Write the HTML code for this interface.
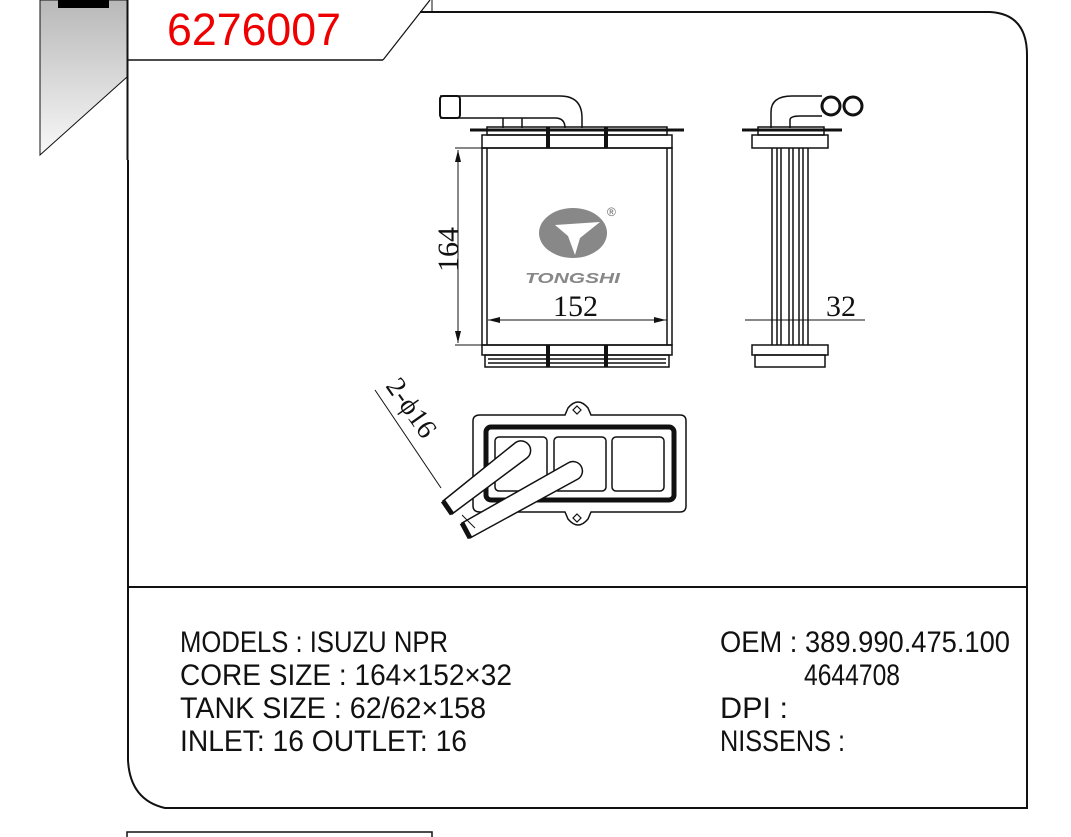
<!DOCTYPE html>
<html><head><style>
html,body{margin:0;padding:0;background:#fff;width:1071px;height:837px;overflow:hidden}
svg{display:block}
.t{font-family:"Liberation Sans Narrow","Liberation Sans",sans-serif;font-size:30px;fill:#111}
.s{font-family:"Liberation Serif",serif;fill:#111}
</style></head><body>
<svg width="1071" height="837" viewBox="0 0 1071 837" xmlns="http://www.w3.org/2000/svg" xml:space="preserve">
<defs><linearGradient id="g" x1="0" y1="0" x2="0" y2="1"><stop offset="0" stop-color="#b8b8b8"/><stop offset="1" stop-color="#f8f8f8"/></linearGradient></defs>
<polygon points="40,0 127,0 127,77 40,155" fill="url(#g)" stroke="#111" stroke-width="1"/>
<rect x="58" y="0" width="51" height="8" fill="#000"/>
<g fill="none" stroke="#111">
<line x1="127.5" y1="0" x2="127.5" y2="160" stroke-width="2"/>
<line x1="128" y1="60" x2="383" y2="60" stroke-width="1.5"/>
<line x1="383" y1="60" x2="430" y2="0" stroke-width="1.2"/>
<line x1="432" y1="0" x2="432" y2="12"/>
<path d="M420,12 L990,12 Q1027,14 1027,55 L1027,808 L165,808 Q130,800 128,760 L128,160" stroke-width="2"/>
<line x1="128" y1="587" x2="1027" y2="587" stroke-width="2"/>
<path d="M127,837 L127,832 L432,832 L432,837" stroke-width="1.5"/>
</g>
<text x="167" y="45" font-family="Liberation Sans,sans-serif" font-size="45" fill="#e00" textLength="174" lengthAdjust="spacingAndGlyphs">6276007</text>

<g fill="none" stroke="#111" stroke-width="1.5">
<path d="M440,96 L560,96 Q582,96 582,118 L582,128 M440,118 L555,118 Q565,118 565,128"/>
<rect x="440" y="96" width="20" height="22" rx="3" stroke-width="2"/>
<line x1="503" y1="118" x2="503" y2="128"/><line x1="522" y1="118" x2="522" y2="128"/>
<line x1="470" y1="130" x2="684" y2="130" stroke-width="3"/>
<rect x="487" y="127" width="180" height="8"/>
<rect x="482" y="135" width="190" height="13"/>
<rect x="482" y="148" width="190" height="197"/>
<line x1="487" y1="148" x2="487" y2="345"/><line x1="667" y1="148" x2="667" y2="345"/>
<rect x="482" y="345" width="190" height="10"/>
<rect x="485" y="355" width="184" height="12"/>
<path d="M488,359 H666 M488,363 H666"/>
<line x1="548" y1="127" x2="548" y2="148" stroke-width="4"/><line x1="606" y1="127" x2="606" y2="148" stroke-width="4"/>
<line x1="548" y1="345" x2="548" y2="367" stroke-width="4"/><line x1="606" y1="345" x2="606" y2="367" stroke-width="4"/>
<g stroke-width="1"><line x1="455" y1="148" x2="482" y2="148"/><line x1="455" y1="345" x2="482" y2="345"/>
<line x1="458" y1="150" x2="458" y2="343"/><line x1="488" y1="320" x2="667" y2="320"/>
<line x1="745" y1="320" x2="865" y2="320"/></g>
</g>
<g fill="#111"><polygon points="458,150 455,162 461,162"/><polygon points="458,343 455,331 461,331"/>
<polygon points="488,320 500,317 500,323"/><polygon points="666,320 654,317 654,323"/></g>
<text class="s" font-size="30" transform="translate(458,272) rotate(-90)">164</text>
<text class="s" x="553" y="316" font-size="30">152</text>
<text class="s" x="826" y="316" font-size="30">32</text>
<ellipse cx="573" cy="233" rx="34" ry="25" fill="#888"/>
<path d="M555,225 L600,222 L580,238 L575,255 L568,236 Z" fill="#fff"/>
<text x="525" y="283" font-family="Liberation Sans,sans-serif" font-weight="bold" font-style="italic" font-size="15" fill="#888" textLength="95" lengthAdjust="spacingAndGlyphs">TONGSHI</text>
<text x="607" y="216" font-family="Liberation Sans,sans-serif" font-size="12" fill="#666">®</text>

<g fill="none" stroke="#111" stroke-width="1.5">
<path d="M771,128 L771,112 Q771,96 792,96 L822,96 M790,128 L790,120 Q790,116 800,116 L822,116"/>
<circle cx="831" cy="106" r="9" stroke-width="3"/><circle cx="853" cy="106" r="9" stroke-width="3"/>
<line x1="742" y1="130" x2="842" y2="130" stroke-width="3"/>
<rect x="758" y="127" width="66" height="8"/>
<rect x="752" y="135" width="76" height="13"/>
<path d="M772,148 V345 M777,148 V345 M781,148 V345 M789,148 V345 M793,148 V345 M799,148 V345 M803,148 V345 M808,148 V345"/>
<rect x="752" y="345" width="76" height="10"/>
<rect x="755" y="355" width="70" height="12"/>
</g>
<g fill="none" stroke="#111">
<path d="M480,415 H565 L568,408 Q578,396 588,408 L591,415 H680 Q686,415 686,421 V506 Q686,512 680,512 H591 L588,519 Q578,531 568,519 L565,512 H480 Q473,512 473,506 V421 Q473,415 480,415 Z" stroke-width="1.5"/>
<rect x="486" y="427" width="188" height="73" rx="5" stroke-width="5"/>
<rect x="495" y="437" width="52" height="54" rx="4" stroke-width="1.5"/>
<rect x="554" y="437" width="52" height="54" rx="4" stroke-width="1.5"/>
<rect x="612" y="437" width="52" height="54" rx="4" stroke-width="1.5"/>
<path d="M577,406 l4,4 l-4,4 l-4,-4z M577,514 l4,4 l-4,4 l-4,-4z" stroke-width="1.2"/>
</g>
<g stroke="#111" stroke-width="1.5" fill="#fff">
<path d="M443,501 L515,443 A9,9 0 0 1 527,458 L452,514 Z"/>
<path d="M462,523 L568,463 A9,9 0 0 1 578,479 L470,538 Z"/>
</g>
<line x1="443" y1="501" x2="452" y2="514" stroke="#111" stroke-width="5"/>
<line x1="462" y1="523" x2="470" y2="538" stroke="#111" stroke-width="5"/>
<line x1="375" y1="390" x2="441" y2="488" stroke="#111" stroke-width="1"/>
<line x1="462" y1="515" x2="475" y2="528" stroke="#111" stroke-width="1"/>
<text class="s" font-size="28" transform="translate(385,386) rotate(55)">2-ϕ16</text>

<g class="t">
<text x="180" y="652" textLength="268" lengthAdjust="spacingAndGlyphs">MODELS : ISUZU  NPR</text>
<text x="180" y="685" textLength="332" lengthAdjust="spacingAndGlyphs">CORE SIZE : 164×152×32</text>
<text x="180" y="718" textLength="306" lengthAdjust="spacingAndGlyphs">TANK SIZE : 62/62×158</text>
<text x="180" y="751" textLength="287" lengthAdjust="spacingAndGlyphs">INLET: 16  OUTLET: 16</text>
<text x="720" y="652" textLength="290" lengthAdjust="spacingAndGlyphs">OEM : 389.990.475.100</text>
<text x="804" y="685" textLength="96" lengthAdjust="spacingAndGlyphs">4644708</text>
<text x="720" y="718" textLength="68" lengthAdjust="spacingAndGlyphs">DPI :</text>
<text x="720" y="751" textLength="125" lengthAdjust="spacingAndGlyphs">NISSENS :</text>
</g>
</svg>
</body></html>
